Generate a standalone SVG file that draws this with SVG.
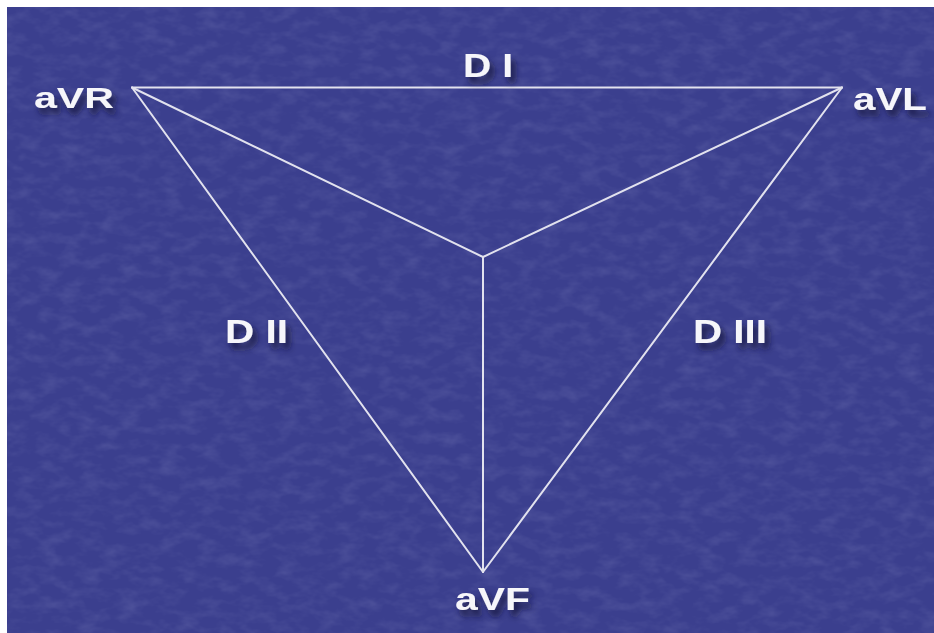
<svg xmlns="http://www.w3.org/2000/svg" width="934" height="633" viewBox="0 0 934 633">
  <defs>
    <filter id="tex" x="0" y="0" width="100%" height="100%">
      <feTurbulence type="fractalNoise" baseFrequency="0.05 0.09" numOctaves="3" seed="7" result="n"/>
      <feColorMatrix in="n" type="matrix" values="0 0 0 0 0.7  0 0 0 0 0.72  0 0 0 0 0.95  1.2 0 0 0 -0.5"/>
    </filter>
    <filter id="shadow" x="-20%" y="-30%" width="150%" height="180%">
      <feDropShadow dx="4" dy="6" stdDeviation="3" flood-color="#12123a" flood-opacity="0.85"/>
    </filter>
    <style>
      .lbl { font-family: "Liberation Sans", Arial, sans-serif; font-weight: bold; fill: #f6f6fa; filter: url(#shadow); }
      .edge { stroke: #e2e2ee; stroke-width: 2; fill: none; stroke-linecap: round; }
    </style>
  </defs>
  <rect x="0" y="0" width="934" height="633" fill="#ffffff"/>
  <rect id="background" x="7" y="7" width="927" height="626" fill="#3b3f8e"/>
  <rect x="7" y="7" width="927" height="626" filter="url(#tex)" opacity="0.18"/>

  <g id="connectors">
    <line class="edge" x1="132" y1="87.5" x2="842" y2="87.5"/>
    <line class="edge" x1="132" y1="87.5" x2="483" y2="572"/>
    <line class="edge" x1="842" y1="87.5" x2="483" y2="572"/>
    <line class="edge" x1="132" y1="87.5" x2="483" y2="257"/>
    <line class="edge" x1="842" y1="87.5" x2="483" y2="257"/>
    <line class="edge" x1="483" y1="257" x2="483" y2="572"/>
  </g>

  <g id="aVR"><text class="lbl" x="34" y="108" font-size="30" textLength="80" lengthAdjust="spacingAndGlyphs">aVR</text></g>
  <g id="aVL"><text class="lbl" x="853" y="110" font-size="31" textLength="74" lengthAdjust="spacingAndGlyphs">aVL</text></g>
  <g id="aVF"><text class="lbl" x="455" y="610" font-size="32" textLength="75" lengthAdjust="spacingAndGlyphs">aVF</text></g>
  <g id="DI"><text class="lbl" x="463" y="77" font-size="33" textLength="50" lengthAdjust="spacingAndGlyphs">D I</text></g>
  <g id="DII"><text class="lbl" x="225" y="343" font-size="34" textLength="63" lengthAdjust="spacingAndGlyphs">D II</text></g>
  <g id="DIII"><text class="lbl" x="693" y="343" font-size="34" textLength="74" lengthAdjust="spacingAndGlyphs">D III</text></g>
</svg>
